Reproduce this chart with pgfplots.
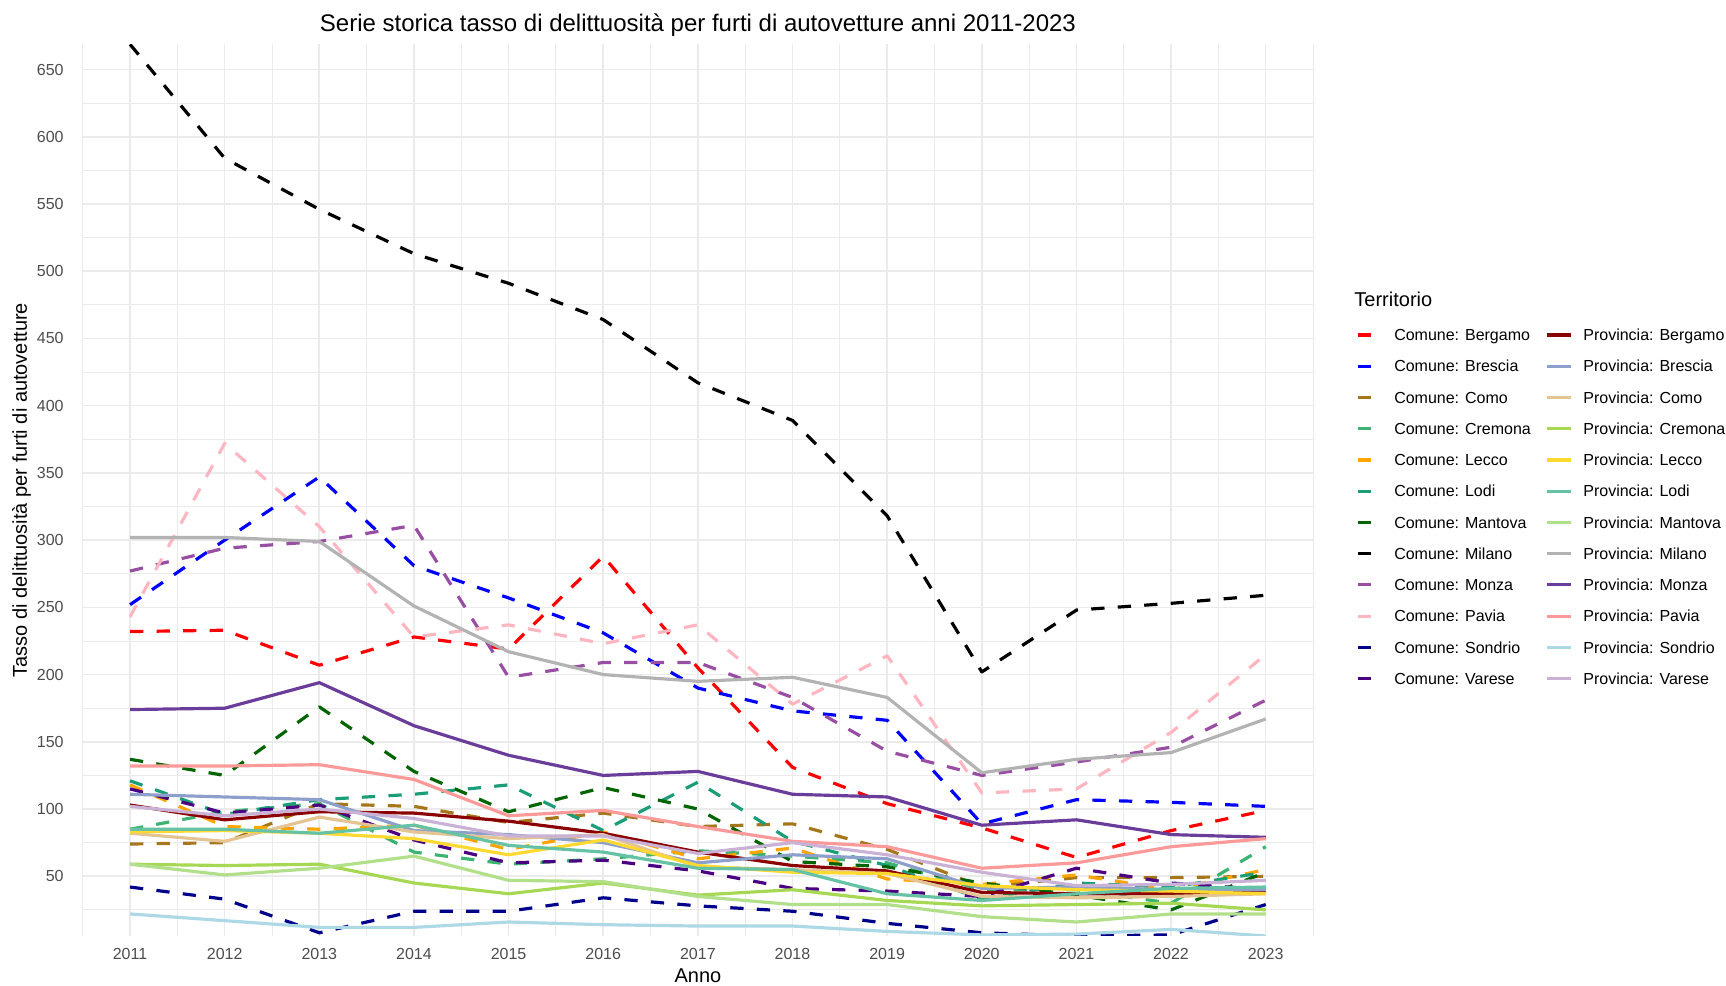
\documentclass[border=0pt]{standalone}
\usepackage{fontspec}
\setmainfont{Liberation Sans}
\usepackage{pgfplots}
\usepackage{pgfplotstable}
\pgfplotsset{compat=1.18}

\definecolor{cBg}{HTML}{FF0000}
\definecolor{cBs}{HTML}{0000FF}
\definecolor{cCo}{HTML}{A6761D}
\definecolor{cCr}{HTML}{3CB371}
\definecolor{cLe}{HTML}{FFA500}
\definecolor{cLo}{HTML}{1B9E77}
\definecolor{cMa}{HTML}{006400}
\definecolor{cMi}{HTML}{000000}
\definecolor{cMo}{HTML}{984EA3}
\definecolor{cPv}{HTML}{FFB6C1}
\definecolor{cSo}{HTML}{00008B}
\definecolor{cVa}{HTML}{4B0082}
\definecolor{pBg}{HTML}{8B0000}
\definecolor{pBs}{HTML}{8DA0CB}
\definecolor{pCo}{HTML}{E5C494}
\definecolor{pCr}{HTML}{A6D854}
\definecolor{pLe}{HTML}{FFD92F}
\definecolor{pLo}{HTML}{66C2A5}
\definecolor{pMa}{HTML}{B2DF8A}
\definecolor{pMi}{HTML}{B3B3B3}
\definecolor{pMo}{HTML}{6A3D9A}
\definecolor{pPv}{HTML}{FB9A99}
\definecolor{pSo}{HTML}{ADD8E6}
\definecolor{pVa}{HTML}{CAB2D6}
\definecolor{gridc}{HTML}{EBEBEB}
\definecolor{tickc}{HTML}{4D4D4D}

% Comune
\pgfplotstableread{
Anno Bergamo Brescia Como Cremona Lecco Lodi Mantova Milano Monza Pavia Sondrio Varese
2011 232 252 74 85 118 121 137 668.7 277 243 42 115
2012 233 300 75 98 87 96 125 584 294 372 33 97
2013 207 347 104 104 85 107 176 546 299 310 8 103
2014 228 281 102 68 88 111 128 513 311 228 24 77
2015 219 257 90 59 70 118 98 491 198 237 24 60
2016 288 231 97 63 83 84 116 464 209 223 34 62
2017 205 190 87 69 63 120 100 417 209 237 28 54
2018 131 173 89 65 71 76 61 389 183 178 24 41
2019 104 166 70 60 48 58 57 318 143 214 15 39
2020 86 89 42 40 44 33 45 202 125 112 8 35
2021 64 107 49 40 51 45 36 248 135 115 5.6 56
2022 84 105 49 30 40 42 25 253 146 157 6.4 45
2023 99 102 50 72 55 53 53 259 181 215 29 40
}\comune

% Provincia
\pgfplotstableread{
Anno Bergamo Brescia Como Cremona Lecco Lodi Mantova Milano Monza Pavia Sondrio Varese
2011 103 111 82 59 83 85 59 302 174 132 22 102
2012 92 109 76 58 84 85 51 302 175 132 17 95
2013 98 107 94 59 82 82 56 299 194 133 12 100
2014 97 84 83 45 78 88 65 251 162 122 12 93
2015 91 81 78 37 66 73 47 217 140 95 16 80
2016 82 75 81 45 77 68 46 200 125 99 14 80
2017 68 60 57 36 58 56 35 195 128 87 13 67
2018 58 66 55 40 53 55 29 198 111 76 13 75
2019 54 63 52 32 52 37 29 183 109 72 9 66
2020 38 41 35 28 43 32 20 127 88 56 6.4 53
2021 37 42 34 29 40 37 16 137 92 60 7 43
2022 37 40 35 30 39 41 22 142 81 72 10.5 44
2023 39 40 37 25 37 42 22 167 79 78 5.6 47
}\provincia

\pgfplotsset{
  cs/.style={line width=1.75pt, line join=round, dash pattern=on 7.3pt off 7.3pt},
  ps/.style={line width=1.75pt, line join=round},
}

\begin{document}
\begin{tikzpicture}
\useasboundingbox (0,0) rectangle (949.3pt,542.3pt);
\begin{axis}[
  at={(45.5pt,27.5pt)}, anchor=south west,
  scale only axis, width=676.7pt, height=490.4pt,
  xmin=2010.5, xmax=2023.5, ymin=5.6, ymax=668.7,
  xtick={2011,2012,...,2023},
  ytick={50,100,...,650},
  minor xtick={2010.5,2011.5,...,2023.5},
  minor ytick={25,75,...,625},
  grid=both,
  major grid style={draw=gridc, line width=0.9pt},
  minor grid style={draw=gridc, line width=0.5pt},
  axis line style={draw=none},
  major tick length=0pt, minor tick length=0pt,
  tick style={draw=none},
  scaled ticks=false,
  clip mode=individual,
  /pgf/number format/1000 sep={},
  /pgf/number format/assume math mode=true,
  xticklabel style={font=\fontsize{8.8}{10}\selectfont, text=tickc, anchor=north, inner sep=0pt, yshift=-6.4pt},
  yticklabel style={font=\fontsize{8.8}{10}\selectfont, text=tickc, anchor=east, inner sep=0pt, xshift=-10.3pt},
  title={Serie storica tasso di delittuosità per furti di autovetture anni 2011-2023},
  title style={at={(axis description cs:0.5,1.0019)}, anchor=base, inner sep=0pt, font=\fontsize{13.2}{15}\selectfont},
  xlabel={Anno},
  xlabel style={at={(axis description cs:0.5,-0.0527)}, anchor=base, inner sep=0pt, font=\fontsize{11}{13}\selectfont},
  ylabel={Tasso di delittuosità per furti di autovetture},
  ylabel style={at={(axis description cs:-0.0453,0.5)}, anchor=base, rotate=0, inner sep=0pt, font=\fontsize{11}{13}\selectfont},
  legend columns=2,
  legend cell align=left,
  legend image code/.code={\draw[#1] (0pt,0pt) -- (13.2pt,0pt);},
  legend style={at={(axis description cs:1.0350,0.6819)}, anchor=north west,
    draw=none, fill=none, inner sep=0pt, outer sep=0pt,
    font=\fontsize{8.8}{10}\selectfont, row sep=9.48pt,
    nodes={inner sep=0pt, text height=7pt, text depth=0.7pt},
    /tikz/every odd column/.append style={column sep=6.0pt},
    /tikz/every even column/.append style={column sep=7.9pt}},
]
% Comune (drawn first)
\addplot[cs, color=cBg, forget plot] table[x=Anno, y=Bergamo] {\comune};
\addplot[cs, color=cBs, forget plot] table[x=Anno, y=Brescia] {\comune};
\addplot[cs, color=cCo, forget plot] table[x=Anno, y=Como] {\comune};
\addplot[cs, color=cCr, forget plot] table[x=Anno, y=Cremona] {\comune};
\addplot[cs, color=cLe, forget plot] table[x=Anno, y=Lecco] {\comune};
\addplot[cs, color=cLo, forget plot] table[x=Anno, y=Lodi] {\comune};
\addplot[cs, color=cMa, forget plot] table[x=Anno, y=Mantova] {\comune};
\addplot[cs, color=cMi, forget plot] table[x=Anno, y=Milano] {\comune};
\addplot[cs, color=cMo, forget plot] table[x=Anno, y=Monza] {\comune};
\addplot[cs, color=cPv, forget plot] table[x=Anno, y=Pavia] {\comune};
\addplot[cs, color=cSo, forget plot] table[x=Anno, y=Sondrio] {\comune};
\addplot[cs, color=cVa, forget plot] table[x=Anno, y=Varese] {\comune};
% Provincia
\addplot[ps, color=pBg, forget plot] table[x=Anno, y=Bergamo] {\provincia};
\addplot[ps, color=pBs, forget plot] table[x=Anno, y=Brescia] {\provincia};
\addplot[ps, color=pCo, forget plot] table[x=Anno, y=Como] {\provincia};
\addplot[ps, color=pCr, forget plot] table[x=Anno, y=Cremona] {\provincia};
\addplot[ps, color=pLe, forget plot] table[x=Anno, y=Lecco] {\provincia};
\addplot[ps, color=pLo, forget plot] table[x=Anno, y=Lodi] {\provincia};
\addplot[ps, color=pMa, forget plot] table[x=Anno, y=Mantova] {\provincia};
\addplot[ps, color=pMi, forget plot] table[x=Anno, y=Milano] {\provincia};
\addplot[ps, color=pMo, forget plot] table[x=Anno, y=Monza] {\provincia};
\addplot[ps, color=pPv, forget plot] table[x=Anno, y=Pavia] {\provincia};
\addplot[ps, color=pSo, forget plot] table[x=Anno, y=Sondrio] {\provincia};
\addplot[ps, color=pVa, forget plot] table[x=Anno, y=Varese] {\provincia};
% Legend (column-wise order as in reference)
\addlegendimage{cs, color=cBg}\addlegendentry{Comune: Bergamo}
\addlegendimage{ps, color=pBg}\addlegendentry{Provincia: Bergamo}
\addlegendimage{cs, color=cBs}\addlegendentry{Comune: Brescia}
\addlegendimage{ps, color=pBs}\addlegendentry{Provincia: Brescia}
\addlegendimage{cs, color=cCo}\addlegendentry{Comune: Como}
\addlegendimage{ps, color=pCo}\addlegendentry{Provincia: Como}
\addlegendimage{cs, color=cCr}\addlegendentry{Comune: Cremona}
\addlegendimage{ps, color=pCr}\addlegendentry{Provincia: Cremona}
\addlegendimage{cs, color=cLe}\addlegendentry{Comune: Lecco}
\addlegendimage{ps, color=pLe}\addlegendentry{Provincia: Lecco}
\addlegendimage{cs, color=cLo}\addlegendentry{Comune: Lodi}
\addlegendimage{ps, color=pLo}\addlegendentry{Provincia: Lodi}
\addlegendimage{cs, color=cMa}\addlegendentry{Comune: Mantova}
\addlegendimage{ps, color=pMa}\addlegendentry{Provincia: Mantova}
\addlegendimage{cs, color=cMi}\addlegendentry{Comune: Milano}
\addlegendimage{ps, color=pMi}\addlegendentry{Provincia: Milano}
\addlegendimage{cs, color=cMo}\addlegendentry{Comune: Monza}
\addlegendimage{ps, color=pMo}\addlegendentry{Provincia: Monza}
\addlegendimage{cs, color=cPv}\addlegendentry{Comune: Pavia}
\addlegendimage{ps, color=pPv}\addlegendentry{Provincia: Pavia}
\addlegendimage{cs, color=cSo}\addlegendentry{Comune: Sondrio}
\addlegendimage{ps, color=pSo}\addlegendentry{Provincia: Sondrio}
\addlegendimage{cs, color=cVa}\addlegendentry{Comune: Varese}
\addlegendimage{ps, color=pVa}\addlegendentry{Provincia: Varese}
\node[anchor=base west, inner sep=0pt, font=\fontsize{11}{13}\selectfont] at (axis description cs:1.0333,0.7065) {Territorio};
\end{axis}
\end{tikzpicture}
\end{document}
